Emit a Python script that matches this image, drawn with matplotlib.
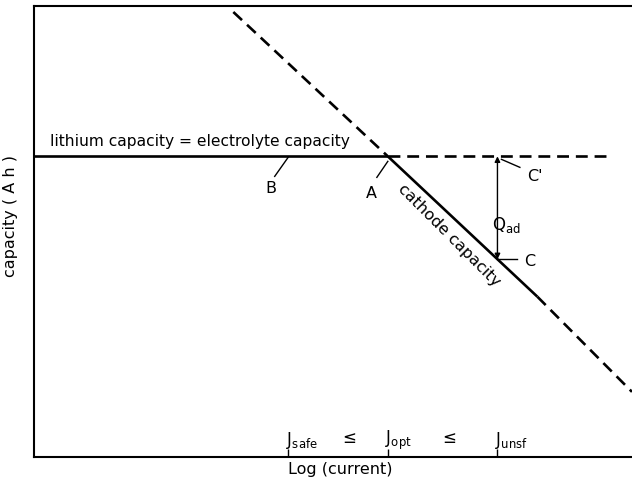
import matplotlib.pyplot as plt
import numpy as np

# capacity vs log(current) schematic, arbitrary units
plateau_x = [0.0, 7.1]
plateau_y = [6.0, 6.0]
plateau_ext_x = [7.1, 11.55]
plateau_ext_y = [6.0, 6.0]

cathode_x = [4.0, 7.1, 10.1, 12.0]
cathode_y = [8.88, 6.0, 3.2, 1.3]

j_ticks = [5.1, 7.1, 9.3]
j_labels = [r"J$_{\rm safe}$", r"J$_{\rm opt}$", r"J$_{\rm unsf}$"]

q_ad_x = 9.3

plt.rcParams["font.family"] = ["DejaVu Sans"]

fig = plt.figure(figsize=(6.32, 4.87), dpi=100)
ax = fig.add_axes([34 / 632, 30 / 487, 598 / 632, 451 / 487])
ax.set_xlim(0, 12)
ax.set_ylim(0, 9)

lw = 1.9
dash = (4.5, 2.6)

# lithium / electrolyte plateau
ax.plot(plateau_x, plateau_y, color="black", lw=lw, solid_capstyle="butt")
ax.plot(plateau_ext_x, plateau_ext_y, color="black", lw=lw, dashes=dash)

# cathode capacity line: dashed outside the operating range, solid within
cx = np.array(cathode_x)
cy = np.array(cathode_y)
ax.plot(cx[:2], cy[:2], color="black", lw=lw, dashes=dash)
ax.plot(cx[1:3], cy[1:3], color="black", lw=lw, solid_capstyle="butt")
ax.plot(cx[2:], cy[2:], color="black", lw=lw, dashes=dash)

# Q_ad arrow between C and C'
c_y = np.interp(q_ad_x, cx, cy)
ax.annotate("", xy=(q_ad_x, plateau_y[0]), xytext=(q_ad_x, c_y),
            arrowprops=dict(arrowstyle="<|-|>", color="black", lw=1.0,
                            mutation_scale=8, shrinkA=0, shrinkB=0))
ax.text(q_ad_x - 0.1, 4.62, r"Q$_{\rm ad}$", fontsize=12, ha="left", va="center")

# point labels with short leader lines
ax.plot([5.1, 4.83], [5.98, 5.6], color="black", lw=1.0)
ax.text(4.75, 5.35, "B", fontsize=11.5, ha="center", va="center")
ax.plot([7.1, 6.88], [5.9, 5.58], color="black", lw=1.0)
ax.text(6.78, 5.25, "A", fontsize=11.5, ha="center", va="center")
ax.plot([q_ad_x + 0.08, q_ad_x + 0.45], [5.94, 5.78], color="black", lw=1.0)
ax.text(10.05, 5.6, "C'", fontsize=11.5, ha="center", va="center")
ax.plot([q_ad_x, q_ad_x + 0.4], [c_y, c_y], color="black", lw=1.0)
ax.text(9.95, c_y - 0.05, "C", fontsize=11.5, ha="center", va="center")

ax.text(0.32, 6.3, "lithium capacity = electrolyte capacity", fontsize=11.2,
        ha="left", va="center")
ax.text(8.33, 4.42, "cathode capacity", fontsize=11.5, rotation=-45,
        ha="center", va="center", rotation_mode="anchor")

# current markers along the x axis
ax.set_xticks(j_ticks)
ax.set_xticklabels([])
ax.tick_params(axis="x", direction="in", length=6, width=1.0)
ax.set_yticks([])
for x, lab in zip(j_ticks, j_labels):
    ax.text(x - 0.05, 0.33, lab, fontsize=12, ha="left", va="center")
ax.text(6.3, 0.38, r"$\leq$", fontsize=12, ha="center", va="center")
ax.text(8.3, 0.38, r"$\leq$", fontsize=12, ha="center", va="center")

ax.set_xlabel("Log (current)", fontsize=11.5)
ax.xaxis.set_label_coords(0.512, -0.012)
ax.set_ylabel("capacity ( A h )", fontsize=11.5)
ax.yaxis.set_label_coords(-0.026, 0.534)

for side in ["left", "bottom", "top"]:
    ax.spines[side].set_linewidth(1.5)
ax.spines["right"].set_visible(False)

fig.savefig("out.png", dpi=100)
